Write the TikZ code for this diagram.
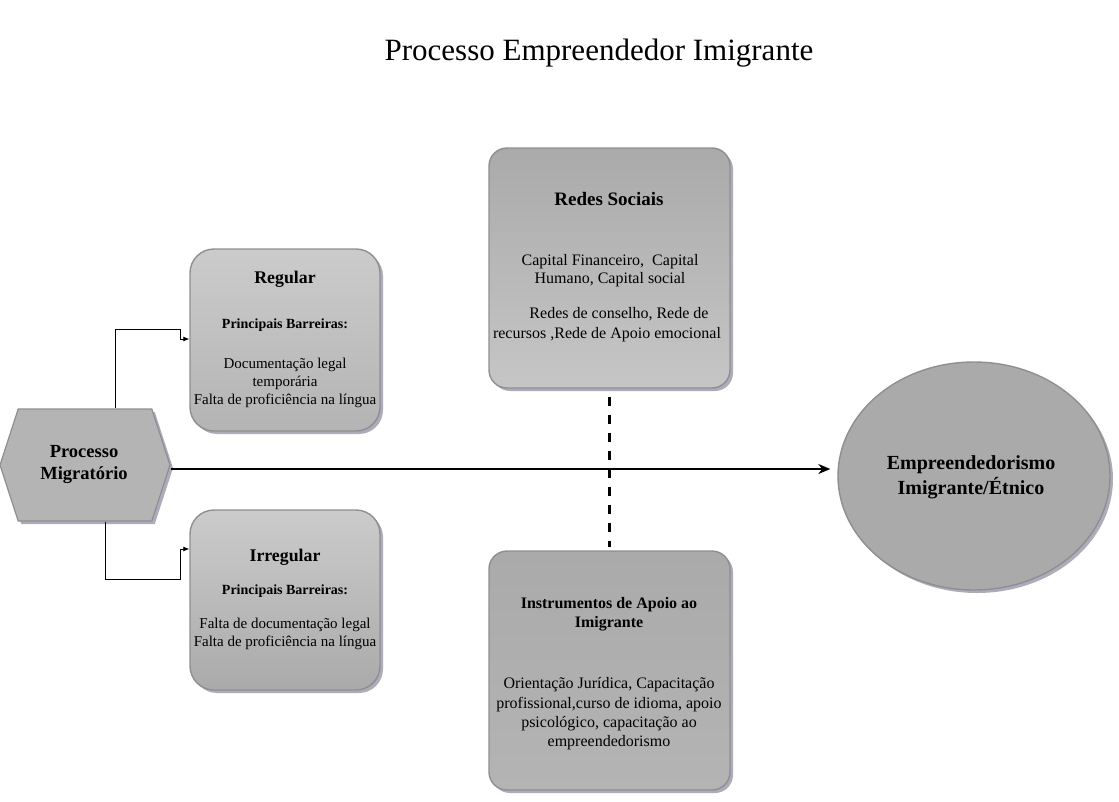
\documentclass[tikz,border=0pt]{standalone}
\usepackage{fontspec}
\setmainfont{Liberation Serif}
\usetikzlibrary{shapes.symbols,shapes.geometric,shadows,arrows.meta}
\definecolor{boxline}{HTML}{8F8F8F}
\definecolor{shadowc}{HTML}{8A8AA0}
\definecolor{lightg}{HTML}{CBCBCB}
\definecolor{midg}{HTML}{B4B4B4}
\definecolor{darkg}{HTML}{AAAAAA}
\tikzset{
  rbox/.style={draw=boxline, line width=1.4pt, rounded corners=24pt, inner sep=0pt,
    drop shadow={shadow xshift=3pt, shadow yshift=-3pt, fill=shadowc, opacity=0.7}},
  txt/.style={align=center, inner sep=0pt, text=black},
  conn/.style={draw=black, line width=0.8pt, -{Latex[length=6pt,width=5pt]}},
  mainarrow/.style={draw=black, line width=1.6pt, -{Stealth[length=12pt,width=10pt]}},
  dashlink/.style={draw=black, line width=3pt, dash pattern=on 9pt off 9pt},
}
\begin{document}
\begin{tikzpicture}[x=1pt,y=-1pt]
\useasboundingbox[fill=white] (0,0) rectangle (1119,801);

% title
\node[txt, font=\fontsize{31}{35}\selectfont] (title) at (599,53) {Processo Empreendedor Imigrante};

% boxes
\node[rbox, top color=lightg, bottom color=midg, minimum width=190pt, minimum height=182pt] (reg) at (285,340) {};
\node[rbox, top color=lightg, bottom color=darkg, minimum width=190pt, minimum height=180pt] (irr) at (285,600) {};
\node[rbox, rounded corners=18pt, top color=darkg, bottom color=lightg!110!white, minimum width=241pt, minimum height=240pt] (redes) at (609.5,268) {};
\node[rbox, rounded corners=18pt, top color=darkg, bottom color=midg, minimum width=241pt, minimum height=239pt] (inst) at (609.5,670.5) {};

% hexagon
\node[signal, signal to=west and east, signal pointer angle=144, draw=boxline, line width=1.2pt,
  fill=midg, minimum width=170pt, minimum height=112pt, inner sep=0pt,
  drop shadow={shadow xshift=3pt, shadow yshift=-3pt, fill=shadowc, opacity=0.7}] (hex) at (85,465) {};

% ellipse
\node[ellipse, draw=boxline, line width=1.4pt, fill=darkg, minimum width=272pt, minimum height=228pt, inner sep=0pt,
  drop shadow={shadow xshift=3pt, shadow yshift=-3pt, fill=shadowc, opacity=0.7}] (emp) at (974,476) {};

% texts
\node[txt, font=\bfseries\fontsize{18.5}{22}\selectfont] (hext) at (84,464) {Processo\\Migratório};

\node[txt, font=\bfseries\fontsize{17.8}{20}\selectfont] (regt) at (285,279) {Regular};
\node[txt, font=\bfseries\fontsize{14}{15}\selectfont] (regpb) at (285,325) {Principais Barreiras:};
\node[txt, font=\fontsize{15}{18}\selectfont] (regb) at (285,383) {Documentação legal\\temporária\\Falta de proficiência na língua};

\node[txt, font=\bfseries\fontsize{17.8}{20}\selectfont] (irrt) at (285,557) {Irregular};
\node[txt, font=\bfseries\fontsize{14}{15}\selectfont] (irrpb) at (285,591) {Principais Barreiras:};
\node[txt, font=\fontsize{15}{18}\selectfont] (irrb) at (285,634) {Falta de documentação legal\\Falta de proficiência na língua};

\node[txt, font=\bfseries\fontsize{19}{20}\selectfont] (redest) at (609,199) {Redes Sociais};
\node[txt, font=\fontsize{16}{18}\selectfont] (redesb1) at (610,271) {Capital Financeiro,\ \ Capital\\Humano, Capital social};
\node[txt, font=\fontsize{16}{20}\selectfont] (redesb2) at (607,325) {\hspace*{24pt}Redes de conselho, Rede de\\recursos ,Rede de Apoio emocional};

\node[txt, font=\bfseries\fontsize{16}{19}\selectfont] (instt) at (609,614.5) {Instrumentos de Apoio ao\\Imigrante};
\node[txt, font=\fontsize{16}{19.3}\selectfont] (instb) at (609,714) {Orientação Jurídica, Capacitação\\profissional,curso de idioma, apoio\\psicológico, capacitação ao\\empreendedorismo};

\node[txt, font=\bfseries\fontsize{20}{25}\selectfont] (empt) at (971,477.5) {Empreendedorismo\\Imigrante/Étnico};

% connectors
\draw[conn] (hex.north -| 115,0) -- (115,329) -- (180,329) -- (180,339) -- (reg.west |- 0,339);
\draw[conn] (hex.south -| 105,0) -- (105,579) -- (180,579) -- (180,549) -- (irr.west |- 0,549);
\draw[mainarrow, shorten >=7pt] ([yshift=-4pt]hex.east) -- (emp.west |- 0,469);
\draw[dashlink, shorten <=8pt, shorten >=3pt] (redes.south) -- (inst.north);
\end{tikzpicture}
\end{document}
